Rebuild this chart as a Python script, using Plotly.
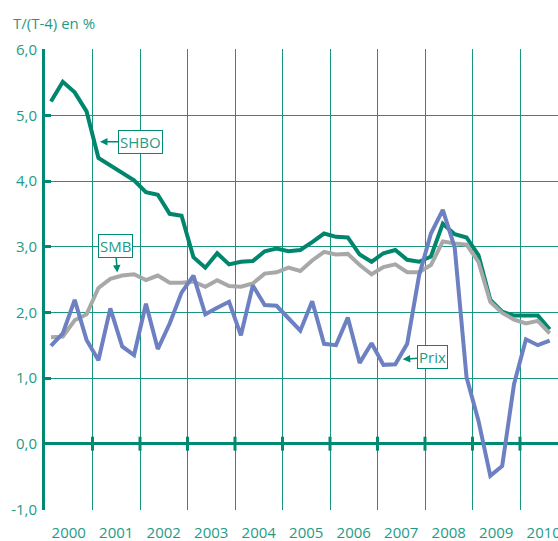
import plotly.graph_objects as go

# Quarterly data, 2000 Q1 .. 2010 Q3 (year-on-year change, %)
quarters = [f"{y}T{q}" for y in range(2000, 2011) for q in range(1, 5)][:43]

shbo = [5.21, 5.51, 5.35, 5.06, 4.35, 4.24, 4.13, 4.01, 3.83, 3.79, 3.50, 3.47,
        2.84, 2.68, 2.90, 2.73, 2.77, 2.78, 2.93, 2.97, 2.93, 2.95, 3.07, 3.20,
        3.15, 3.14, 2.88, 2.77, 2.90, 2.95, 2.80, 2.77, 2.85, 3.35, 3.19, 3.14,
        2.87, 2.19, 2.01, 1.95, 1.95, 1.95, 1.74]

smb = [1.62, 1.63, 1.88, 1.97, 2.37, 2.51, 2.56, 2.58, 2.49, 2.56, 2.45, 2.45,
       2.47, 2.39, 2.49, 2.40, 2.39, 2.44, 2.59, 2.61, 2.68, 2.63, 2.79, 2.92,
       2.88, 2.89, 2.72, 2.58, 2.69, 2.73, 2.61, 2.61, 2.72, 3.08, 3.05, 3.03,
       2.77, 2.16, 1.99, 1.89, 1.83, 1.87, 1.68]

prix = [1.49, 1.68, 2.19, 1.58, 1.27, 2.06, 1.48, 1.35, 2.13, 1.44, 1.83, 2.30,
        2.56, 1.97, 2.07, 2.16, 1.65, 2.41, 2.11, 2.10, 1.91, 1.72, 2.17, 1.52,
        1.50, 1.92, 1.23, 1.53, 1.20, 1.21, 1.52, 2.56, 3.20, 3.56, 2.99, 1.01,
        0.35, -0.49, -0.34, 0.91, 1.59, 1.50, 1.57]

years = list(range(2000, 2011))
year_labels = [str(y) for y in years]
y_ticks = [-1, 0, 1, 2, 3, 4, 5, 6]
y_tick_labels = ["-1,0", "0,0", "1,0", "2,0", "3,0", "4,0", "5,0", "6,0"]

# x position of each quarter: middle of the quarter within its year
xq = [int(s[:4]) + (int(s[-1]) - 0.5) / 4 for s in quarters]

TEAL_TXT = "#1f9a86"
TEAL_GRID = "#1a957f"
TEAL_DARK = "#008a72"
C_SHBO = "#00866d"
C_SMB = "#a8a8a8"
C_PRIX = "#6c80c2"
FONT = "Open Sans"

fig = go.Figure()
fig.add_trace(go.Scatter(x=xq, y=shbo, mode="lines", name="SHBO",
                         line=dict(color=C_SHBO, width=4)))
fig.add_trace(go.Scatter(x=xq, y=smb, mode="lines", name="SMB",
                         line=dict(color=C_SMB, width=4)))
fig.add_trace(go.Scatter(x=xq, y=prix, mode="lines", name="Prix",
                         line=dict(color=C_PRIX, width=4)))
# notches on the zero line at each year boundary
fig.add_trace(go.Scatter(x=years[1:], y=[0] * len(years[1:]), mode="markers",
                         hoverinfo="skip",
                         marker=dict(symbol="line-ns", size=10,
                                     line=dict(color=TEAL_DARK, width=3))))

fig.update_layout(
    width=558, height=541,
    margin=dict(l=45, r=0, t=49, b=31),
    paper_bgcolor="white", plot_bgcolor="white",
    showlegend=False,
    font=dict(family=FONT, size=15, color=TEAL_TXT),
    xaxis=dict(
        range=[2000, 2010.8],
        automargin=False,
        tickmode="array",
        tickvals=[y + 0.5 for y in years],
        ticktext=year_labels,
        ticks="", showgrid=False, zeroline=False, showline=False,
        ticklabeloverflow="allow",
        ticklabelstandoff=12,
        tickfont=dict(size=15, color=TEAL_TXT, family=FONT),
        minor=dict(tickmode="array", tickvals=years[1:], showgrid=True,
                   gridcolor=TEAL_GRID, gridwidth=1, ticks=""),
    ),
    yaxis=dict(
        range=[-1.01, 6.01],
        automargin=False,
        tickmode="array",
        tickvals=y_ticks,
        ticktext=y_tick_labels,
        ticks="inside", ticklen=6, tickwidth=3, tickcolor=TEAL_DARK,
        showline=True, linewidth=3, linecolor=TEAL_DARK,
        showgrid=True, gridcolor=TEAL_GRID, gridwidth=1,
        zeroline=True, zerolinecolor=TEAL_DARK, zerolinewidth=3,
        tickfont=dict(size=15, color=TEAL_TXT, family=FONT),
        ticklabelstandoff=2,
    ),
)

fig.add_annotation(xref="paper", yref="paper", x=-34 / 513, y=1 + 26 / 461,
                   xanchor="left", yanchor="middle", showarrow=False,
                   text="T/(T-4) en %", font=dict(size=15, color=TEAL_TXT))

box = dict(showarrow=True, arrowhead=2, arrowsize=1, arrowwidth=1.5,
           arrowcolor=TEAL_DARK, bordercolor=TEAL_DARK, borderwidth=1,
           borderpad=1, bgcolor="white", font=dict(size=15, color=TEAL_TXT))
fig.add_annotation(x=2001.158, y=4.598, ax=40.5, ay=0, text="SHBO", **box)
fig.add_annotation(x=2001.522, y=2.605, ax=-2, ay=-27, text="SMB", **box)
fig.add_annotation(x=2007.531, y=1.285, ax=30, ay=-2, text="Prix", **box)

fig.write_html("out.html",
               config={"displayModeBar": False},
               post_script="document.body.style.margin='0';"
                           "document.body.style.overflow='hidden';")
